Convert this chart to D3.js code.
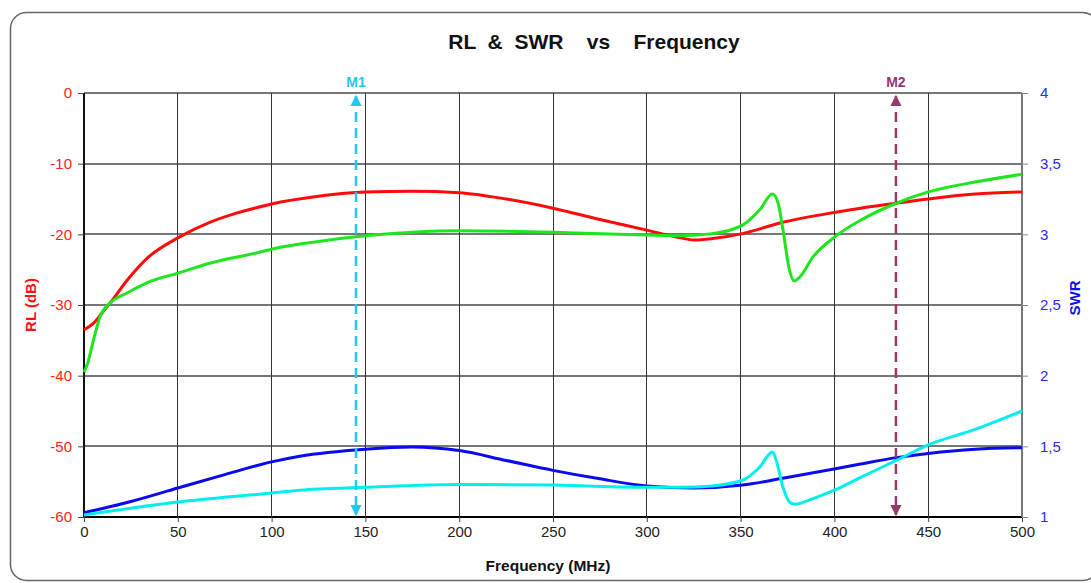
<!DOCTYPE html>
<html lang="en">
<head>
  <meta charset="UTF-8">
  <title>RL & SWR vs Frequency</title>
  <style>
    body { margin: 0; background: #fff; }
    svg { font-family: "Liberation Sans", Arial, sans-serif; }
    .grid line { shape-rendering: crispEdges; }
    .axis text { font-size: 15px; }
    .axis path { display: none; }
  </style>
</head>
<body>
  <div id="chart"></div>
  <script src="https://d3js.org/d3.v7.min.js"></script>
  <script>
    // data
    var xTicks = [0, 50, 100, 150, 200, 250, 300, 350, 400, 450, 500]
    var rlTicks = [0, -10, -20, -30, -40, -50, -60]
    var swrTicks = [1, 1.5, 2, 2.5, 3, 3.5, 4]

    var redFreq = [0, 5, 10, 14, 23, 34, 50, 67, 80, 94, 100, 125, 150, 175, 200, 225, 250, 275, 300, 318, 325, 335, 351, 371, 400, 414, 433, 450, 475, 500]
    var redRL = [-33.5, -32.6, -31.0, -29.7, -26.5, -23.3, -20.5, -18.3, -17.1, -16.1, -15.7, -14.6, -14.0, -13.9, -14.1, -15.0, -16.3, -17.9, -19.4, -20.5, -20.8, -20.6, -19.9, -18.4, -16.9, -16.3, -15.6, -15.0, -14.3, -14.0]

    var greenFreq = [0, 2, 5, 8.5, 14, 23, 35, 50, 67, 94, 100, 125, 150, 175, 200, 250, 300, 318, 335, 351, 360, 367, 370, 372.6, 376, 378.5, 381.7, 388.6, 400, 414, 433, 450, 475, 500]
    var greenRL = [-39.5, -38.2, -35, -31.7, -29.7, -28.3, -26.7, -25.5, -24.1, -22.5, -22.1, -21.0, -20.2, -19.7, -19.5, -19.7, -20.1, -20.2, -19.9, -18.7, -16.6, -14.3, -15.6, -19.4, -25, -26.6, -26, -23.2, -20.4, -18.0, -15.6, -14.0, -12.6, -11.5]

    var blueFreq = [0, 25, 50, 75, 100, 115, 150, 175, 200, 225, 250, 275, 300, 325, 351, 371, 400, 414, 433, 450, 475, 500]
    var blueSWR = [1.03, 1.11, 1.205, 1.30, 1.39, 1.43, 1.48, 1.495, 1.47, 1.40, 1.33, 1.27, 1.22, 1.205, 1.226, 1.27, 1.34, 1.375, 1.42, 1.45, 1.48, 1.49]

    var cyanFreq = [0, 50, 100, 115, 150, 200, 250, 300, 318, 335, 351, 360, 367, 369, 372.6, 376, 379, 388.6, 400, 414, 433, 450, 475, 500]
    var cyanSWR = [1.014, 1.106, 1.17, 1.19, 1.21, 1.23, 1.226, 1.21, 1.21, 1.22, 1.26, 1.35, 1.46, 1.40, 1.21, 1.106, 1.09, 1.13, 1.19, 1.28, 1.40, 1.51, 1.62, 1.75]

    var markerNames = ['M1', 'M2']
    var markerFreq = [145, 432.8]
    var markerColors = ['#22c8f0', '#953a6a']

    var width = 1091
    var height = 583
    var padding = {left: 84, right: 69, top: 93, bottom: 66}

    var svg = d3.select('#chart').append('svg')
      .attr('width', width)
      .attr('height', height)

    // rounded frame
    svg.append('rect')
      .attr('x', 10.5).attr('y', 12.5)
      .attr('width', 1088).attr('height', 568)
      .attr('rx', 16)
      .attr('fill', 'none')
      .attr('stroke', '#666')
      .attr('stroke-width', 1.5)

    var xScale = d3.scaleLinear().domain([0, 500])
      .range([padding.left, width - padding.right])
    var yRL = d3.scaleLinear().domain([-60, 0])
      .range([height - padding.bottom, padding.top])
    var ySWR = d3.scaleLinear().domain([1, 4])
      .range([height - padding.bottom, padding.top])

    // grid
    var grid = svg.append('g').attr('class', 'grid')
    grid.selectAll('.hline').data(rlTicks).enter().append('line')
      .attr('x1', padding.left).attr('x2', width - padding.right)
      .attr('y1', function (d) { return yRL(d) })
      .attr('y2', function (d) { return yRL(d) })
      .attr('stroke', function (d) { return d === -60 ? '#000' : '#777' })
      .attr('stroke-width', function (d) { return d === -60 ? 1.5 : 2 })
    grid.selectAll('.vline').data(xTicks).enter().append('line')
      .attr('x1', function (d) { return xScale(d) })
      .attr('x2', function (d) { return xScale(d) })
      .attr('y1', padding.top).attr('y2', height - padding.bottom)
      .attr('stroke', function (d) { return d === 0 ? '#111' : (d === 500 ? '#777' : '#333') })
      .attr('stroke-width', function (d) { return d === 0 ? 2 : (d === 500 ? 2 : 1) })

    // axes
    var xAxis = d3.axisBottom(xScale).tickValues(xTicks).tickSize(5).tickPadding(4)
    var gx = svg.append('g').attr('class', 'axis')
      .attr('transform', 'translate(0,' + (height - padding.bottom) + ')')
      .call(xAxis)
    gx.selectAll('line').attr('stroke', '#444')
    gx.selectAll('text').attr('fill', '#222')

    var yAxisL = d3.axisLeft(yRL).tickValues(rlTicks).tickSize(6).tickPadding(6)
      .tickFormat(function (d) { return String(d) })
    var gl = svg.append('g').attr('class', 'axis')
      .attr('transform', 'translate(' + padding.left + ',0)')
      .call(yAxisL)
    gl.selectAll('line').attr('stroke', '#444')
    gl.selectAll('text').attr('fill', '#ff2020')

    var yAxisR = d3.axisRight(ySWR).tickValues(swrTicks).tickSize(6).tickPadding(12)
      .tickFormat(function (d) { return String(d).replace('.', ',') })
    var gr = svg.append('g').attr('class', 'axis')
      .attr('transform', 'translate(' + (width - padding.right) + ',0)')
      .call(yAxisR)
    gr.selectAll('line').attr('stroke', '#888')
    gr.selectAll('text').attr('fill', '#2a2aff')

    // titles
    svg.append('text')
      .attr('x', 594).attr('y', 49)
      .attr('text-anchor', 'middle')
      .style('white-space', 'pre')
      .attr('font-size', 21).attr('font-weight', 'bold').attr('fill', '#111')
      .text('RL  &  SWR    vs    Frequency')
    svg.append('text')
      .attr('x', 548).attr('y', 571)
      .attr('text-anchor', 'middle')
      .attr('font-size', 15.5).attr('font-weight', 'bold').attr('fill', '#111')
      .text('Frequency (MHz)')
    svg.append('text')
      .attr('transform', 'translate(36,305) rotate(-90)')
      .attr('text-anchor', 'middle')
      .attr('font-size', 15).attr('font-weight', 'bold').attr('fill', '#ff1010')
      .text('RL (dB)')
    svg.append('text')
      .attr('transform', 'translate(1080,298) rotate(-90)')
      .attr('text-anchor', 'middle')
      .attr('font-size', 15).attr('font-weight', 'bold').attr('fill', '#1010ee')
      .text('SWR')

    // curves
    function drawCurve(freq, vals, yScale, color) {
      var pts = freq.map(function (f, i) { return [f, vals[i]] })
      var line = d3.line()
        .x(function (d) { return xScale(d[0]) })
        .y(function (d) { return yScale(d[1]) })
        .curve(d3.curveMonotoneX)
      svg.append('path')
        .datum(pts)
        .attr('d', line)
        .attr('fill', 'none')
        .attr('stroke', color)
        .attr('stroke-width', 3)
        .attr('stroke-linejoin', 'round')
    }
    drawCurve(redFreq, redRL, yRL, '#ff0a0a')
    drawCurve(greenFreq, greenRL, yRL, '#1ee61e')
    drawCurve(blueFreq, blueSWR, ySWR, '#0a0aee')
    drawCurve(cyanFreq, cyanSWR, ySWR, '#00eeee')

    // markers
    var defs = svg.append('defs')
    markerNames.forEach(function (name, i) {
      var c = markerColors[i]
      defs.append('marker')
        .attr('id', 'arrow' + i)
        .attr('viewBox', '0 0 10 10')
        .attr('refX', 9).attr('refY', 5)
        .attr('markerWidth', 4.5).attr('markerHeight', 4.5)
        .attr('orient', 'auto-start-reverse')
        .append('path')
        .attr('d', 'M0,0 L10,5 L0,10 z')
        .attr('fill', c)
      var x = xScale(markerFreq[i])
      svg.append('line')
        .attr('x1', x).attr('x2', x)
        .attr('y1', padding.top + 3).attr('y2', height - padding.bottom - 2)
        .attr('stroke', c)
        .attr('stroke-width', 2.5)
        .attr('stroke-dasharray', '10,6')
        .attr('marker-start', 'url(#arrow' + i + ')')
        .attr('marker-end', 'url(#arrow' + i + ')')
      svg.append('text')
        .attr('x', x).attr('y', 87)
        .attr('text-anchor', 'middle')
        .attr('font-size', 14).attr('font-weight', 'bold').attr('fill', c)
        .text(name)
    })
  </script>
</body>
</html>
